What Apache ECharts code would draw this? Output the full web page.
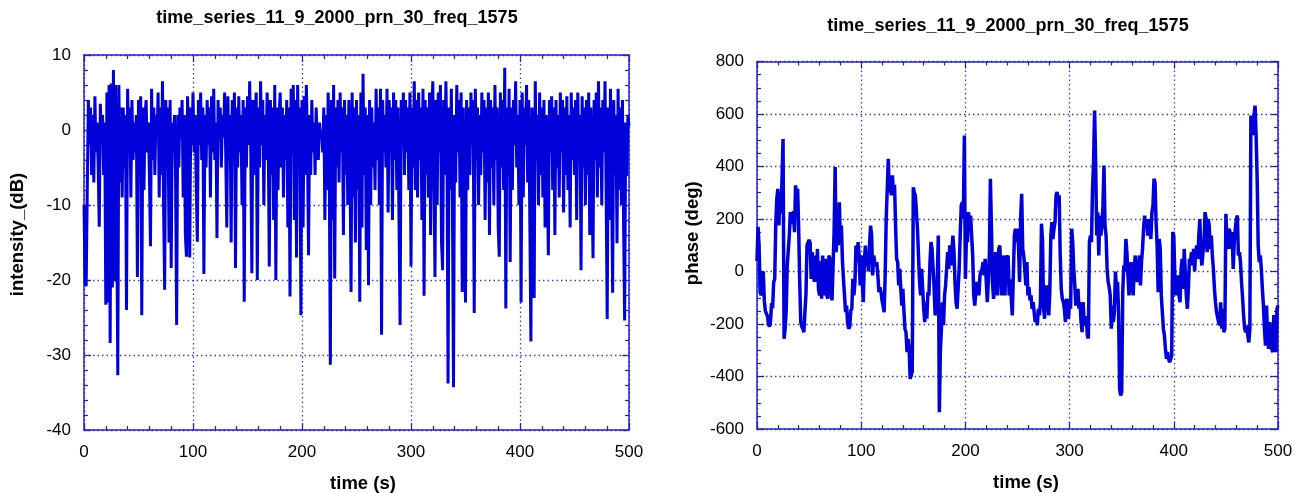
<!DOCTYPE html>
<html>
<head>
<meta charset="utf-8">
<script src="https://cdn.jsdelivr.net/npm/echarts@6/dist/echarts.min.js"></script>
<style>
html,body{margin:0;padding:0;background:#fff;}
#c{width:1310px;height:493px;}
</style>
</head>
<body>
<div id="c"></div>
<script>
// ---- data ----
const chartTitle = 'time_series_11_9_2000_prn_30_freq_1575';
const xName = 'time (s)';
const leftYName = 'intensity_(dB)';
const rightYName = 'phase (deg)';
const timeStart = 0;   // s
const timeStep = 1;    // s between samples

// intensity (dB), one value per second, t = 0..500
const intensity = [
-10,-20.5,-20.8,-8,4,-2,3,-6,2,-7,
4.5,-3,1,-5,-12.9,3.5,-1,2,-6,1,
-23.3,5,-23,6,-28.4,6.2,-21,8,-20.2,6,
-11,-32.7,6,-7,3,-9,3,-5,2,-24,
5.5,-2,3,-9,4,-4,1,-3,2,-19.6,
4,-5,4.5,-24.7,3,-8,2,4,-3,1,
-6,-15.5,5.5,-4,3,-6,2,-1,5,-9,
3,-6,6.5,-10,-21.3,4,-2,3,-15,4,
-18.4,1,-3,2,-6,-26,2,-5,3,-1,
4,-9,2,-14,-16.9,4.5,0,-17,3,-2,
5,-3,2,-8,-14.9,4,-2,5,-4,3,
-19.2,2,-5,4,-2,3,-9,4.5,-3,5.5,
-4,1,-14.4,4,-1,3,-5,2,-1,5,
-3,-13,4.5,-4,2,-15,4,-2,5,-18.4,
3,-5,4.5,-3,2,-10,4,-22.9,3,-5,
4.5,-2,6.5,-3,-19.1,4,-6,2,5,-20,
3,-5,6.5,-2,4,-10,2,-4,5,-1,
-18.2,4,-6,3,-12,6,-20,3,-8,2,
5,-5,3,-9,2,-4,4,-13,3,-22.2,
5.5,-3,6,-12,4,-17,6,-5,3,-24.7,
4,-13,4.5,-6,6,-2,-16.7,2,-6,4,
-3,1,-6,3,-2,-4,1,-1,0,-3,
3,-12,2,-8,5,-5,-31.3,4,-12,6,
-19.8,3,-5,4,-7,5,-3,3,-14,4,
-6,2,-10,4,-4,-21.6,5,-9,3,-15,
4,-8,2,-22.9,5,-13,7.5,-6,3,-16,
2,-20.7,4,-10,3,-5,1,-8,5.5,-4,
3,-10,5.5,-27.3,4,-3,2,-5,5.5,-11,
4,-3,3,-12,5,-4,4,-8,3,-12,
-26,4,-2,5,-6,4,-3,3,-8,5,
-18.2,3,-5,6.5,-8,4,-9,5,-4,3,
-12,5.5,-22.1,4,-6,3,-9,5,-14,2,
6.5,-5,-19.6,4,-10,5,-3,6,-15,-18.7,
4,-6,6.5,-2,-33.8,3,-8,5.5,-10,-34.3,
2,-7,6,-3,4,-9,5,-21.6,3,-12,
-23,4,-8,3,-6,5,-2,4,-24.4,5.5,
-4,3,-10,2,-6,5,-3,4,-12,3,
-7,5,-14,4,-5,3,-10,6,-4,3,
-13,-16.9,5,-5,4,-8,8.3,-23.8,3,-6,
5.5,-17.6,3,-8,4,-2,6.5,-5,2,-10,
4,-23,5,-9,3,-2,6,-7,4,-12,
-28.2,3,-8,-22.4,6.5,-4,2,-10,5,-6,
3,-9,4,-13,2,-5,-16.7,4,-3,4.5,
-8,3,-14,4,-5,2,-9,5,-3,4,
-11,3,-6,4.5,-8,2,-13,5,-4,3,
-6,4,-12,5,-3,2,-18.7,4.5,-5,3,
-10,4,-6,5,-14,3,-7,-17.1,4,-4,
5,-9,6.5,-5,3,-10,4,-3,6.5,-8,
-25.2,3,-12,5.5,-7,-21.7,4,-6,2,-15.1,
5.5,-8,3,-10,4,-12,-25.4,1,-6,2,
0.5
];

// phase (deg), one value per second, t = 0..500
const phase = [
40,170,100,-80,-90,-70,0,-110,-150,-160,
-170,-200,-210,-190,-120,-140,-40,-30,180,277,
315,175,300,220,350,505,-256,-218,-150,20,
23,137,226,200,180,230,150,328,290,315,
163,-40,-193,-210,-218,-231,-155,-85,100,95,
120,110,-28,74,20,-40,61,-40,86,-66,
-91,40,-104,61,-91,20,48,-91,-104,61,
48,-80,-110,20,150,398,74,163,100,264,
120,175,40,-30,-91,-155,-130,-200,-218,-210,
-150,-142,-28,-91,-40,99,36,112,60,-53,
61,-30,-117,36,99,20,60,0,100,175,
137,-15,61,36,20,36,-15,-79,-60,-79,
-110,-130,-155,-15,200,315,429,300,366,290,
366,290,330,175,48,36,-53,10,-66,-130,
-66,-150,-218,-231,-307,-257,-295,-409,-396,-380,
321,300,290,226,163,61,-40,-91,10,-66,
-142,-193,-117,-180,-79,-91,36,112,86,10,
-66,-167,-40,-28,137,-536,-300,-218,-117,-205,
-91,-53,-60,74,10,100,23,74,137,80,
-40,-117,-142,-66,10,137,251,264,200,518,
-28,137,112,226,163,213,137,61,-91,-130,
-79,-40,-53,-91,-15,0,10,36,-15,48,
48,-117,-40,60,353,163,-40,-104,-66,74,
48,-91,86,99,10,-91,23,61,-91,61,
48,61,-91,-30,-100,-167,-15,137,163,112,
163,90,-40,200,296,86,61,10,-53,36,
-91,-60,-110,-91,-142,-117,-155,-193,-167,-205,
-142,-167,-120,182,120,-142,-180,-91,-53,-91,
-167,-80,137,188,124,163,188,290,303,277,
290,61,-66,-104,-117,-142,-193,-104,-142,-180,
-104,-142,163,112,10,-53,-130,-91,-66,-142,
-117,-193,-231,-117,-193,-205,-170,-244,-255,112,
137,112,315,417,613,417,137,226,61,213,
137,175,250,404,175,137,10,-40,-60,-91,
-218,-130,-193,-155,0,-66,-40,-155,-447,-472,
-460,-79,23,0,124,74,-15,-91,-40,36,
-40,-91,10,61,-15,-40,10,61,-53,36,
86,163,213,175,200,137,200,163,124,226,
250,353,340,188,99,-79,124,86,-91,-155,
-218,-244,-295,-333,-307,-333,-346,-333,-320,150,
137,-15,-91,-40,-15,-91,-117,10,48,-66,
86,86,-91,-142,-66,48,36,74,23,86,
0,74,99,48,137,200,61,23,74,112,
226,200,74,200,175,86,137,61,10,-66,
-117,-155,-155,-193,-205,-117,-218,-142,-231,-218,
220,112,86,163,150,86,150,10,112,163,
200,213,61,74,36,-40,-100,-167,-218,-231,
-205,-244,-270,-218,594,560,520,594,632,518,
353,99,36,61,10,-66,-130,-218,-282,-130,
-244,-295,-193,-218,-295,-307,-166,-218,-307,-142,
-130
];

const toPairs = (vals) => vals.map((v, i) => [timeStart + i * timeStep, v]);

// ---- styles ----
const AX = '#1f1fd0';
const GRIDC = '#3a3ad8';
const LINEC = '#0000d8';
const FONT = '"Liberation Sans", Arial, Helvetica, sans-serif';

function bottomX(grid, padLeft) {
  return {
    gridIndex: grid, type: 'value', position: 'bottom',
    min: 0, max: 500, interval: 100,
    axisLine: { show: true, onZero: false, lineStyle: { color: AX, width: 1.5 } },
    axisTick: { show: true, inside: true, length: 7, lineStyle: { color: AX, width: 1.2 } },
    minorTick: { show: true, splitNumber: 5, length: 4, lineStyle: { color: AX, width: 1.2 } },
    splitLine: { show: true, lineStyle: { color: GRIDC, type: [1.5, 3], width: 1.3 } },
    axisLabel: { color: '#000', fontSize: 17, margin: 14, fontFamily: FONT },
    name: xName, nameLocation: 'middle', nameGap: 44,
    nameTextStyle: { color: '#000', fontSize: 18.5, fontWeight: 'bold', fontFamily: FONT, padding: [0, 0, 0, padLeft] }
  };
}
function topX(grid) {
  return {
    gridIndex: grid, type: 'value', position: 'top',
    min: 0, max: 500, interval: 100,
    axisLine: { show: true, onZero: false, lineStyle: { color: AX, width: 1.5 } },
    axisTick: { show: true, inside: true, length: 7, lineStyle: { color: AX, width: 1.2 } },
    minorTick: { show: true, splitNumber: 5, length: 4, lineStyle: { color: AX, width: 1.2 } },
    splitLine: { show: false }, axisLabel: { show: false }
  };
}
function leftY(grid, min, max, interval, minorSplit, name, nameGap, padLeft) {
  return {
    gridIndex: grid, type: 'value', position: 'left',
    min: min, max: max, interval: interval,
    axisLine: { show: true, onZero: false, lineStyle: { color: AX, width: 1.5 } },
    axisTick: { show: true, inside: true, length: 7, lineStyle: { color: AX, width: 1.2 } },
    minorTick: { show: true, splitNumber: minorSplit, length: 4, lineStyle: { color: AX, width: 1.2 } },
    splitLine: { show: true, lineStyle: { color: GRIDC, type: [1.5, 3], width: 1.3 } },
    axisLabel: { color: '#000', fontSize: 17, margin: 13, fontFamily: FONT },
    name: name, nameLocation: 'middle', nameGap: nameGap, nameRotate: 90,
    nameTextStyle: { color: '#000', fontSize: 18.5, fontWeight: 'bold', fontFamily: FONT, padding: [0, 0, 0, padLeft] }
  };
}
function rightY(grid, min, max, interval, minorSplit) {
  return {
    gridIndex: grid, type: 'value', position: 'right',
    min: min, max: max, interval: interval,
    axisLine: { show: true, onZero: false, lineStyle: { color: AX, width: 1.5 } },
    axisTick: { show: true, inside: true, length: 7, lineStyle: { color: AX, width: 1.2 } },
    minorTick: { show: true, splitNumber: minorSplit, length: 4, lineStyle: { color: AX, width: 1.2 } },
    splitLine: { show: false }, axisLabel: { show: false }
  };
}

const chart = echarts.init(document.getElementById('c'), null, { renderer: 'canvas' });
chart.setOption({
  animation: false,
  backgroundColor: '#fff',
  textStyle: { fontFamily: FONT },
  title: [
    { text: chartTitle, left: 337, top: 9, padding: 0, textAlign: 'center',
      textStyle: { fontSize: 18, fontWeight: 'bold', color: '#000', fontFamily: FONT } },
    { text: chartTitle, left: 1008, top: 17, padding: 0, textAlign: 'center',
      textStyle: { fontSize: 18, fontWeight: 'bold', color: '#000', fontFamily: FONT } }
  ],
  grid: [
    { left: 84, top: 55, width: 545, height: 375, outerBoundsMode: 'none', containLabel: false },
    { left: 757, top: 61.5, width: 521, height: 367.5, outerBoundsMode: 'none', containLabel: false }
  ],
  xAxis: [bottomX(0, 13), topX(0), bottomX(1, 17), topX(1)],
  yAxis: [
    leftY(0, -40, 10, 10, 5, leftYName, 57, 16),
    rightY(0, -40, 10, 10, 5),
    leftY(1, -600, 800, 200, 4, rightYName, 55, 24),
    rightY(1, -600, 800, 200, 4)
  ],
  series: [
    { type: 'line', xAxisIndex: 0, yAxisIndex: 0, data: toPairs(intensity),
      showSymbol: false, symbol: 'none', sampling: null, clip: true,
      lineStyle: { color: LINEC, width: 3 }, itemStyle: { color: LINEC } },
    { type: 'line', xAxisIndex: 2, yAxisIndex: 2, data: toPairs(phase),
      showSymbol: false, symbol: 'none', sampling: null, clip: true,
      lineStyle: { color: LINEC, width: 3.5 }, itemStyle: { color: LINEC } }
  ]
});
</script>
</body>
</html>
